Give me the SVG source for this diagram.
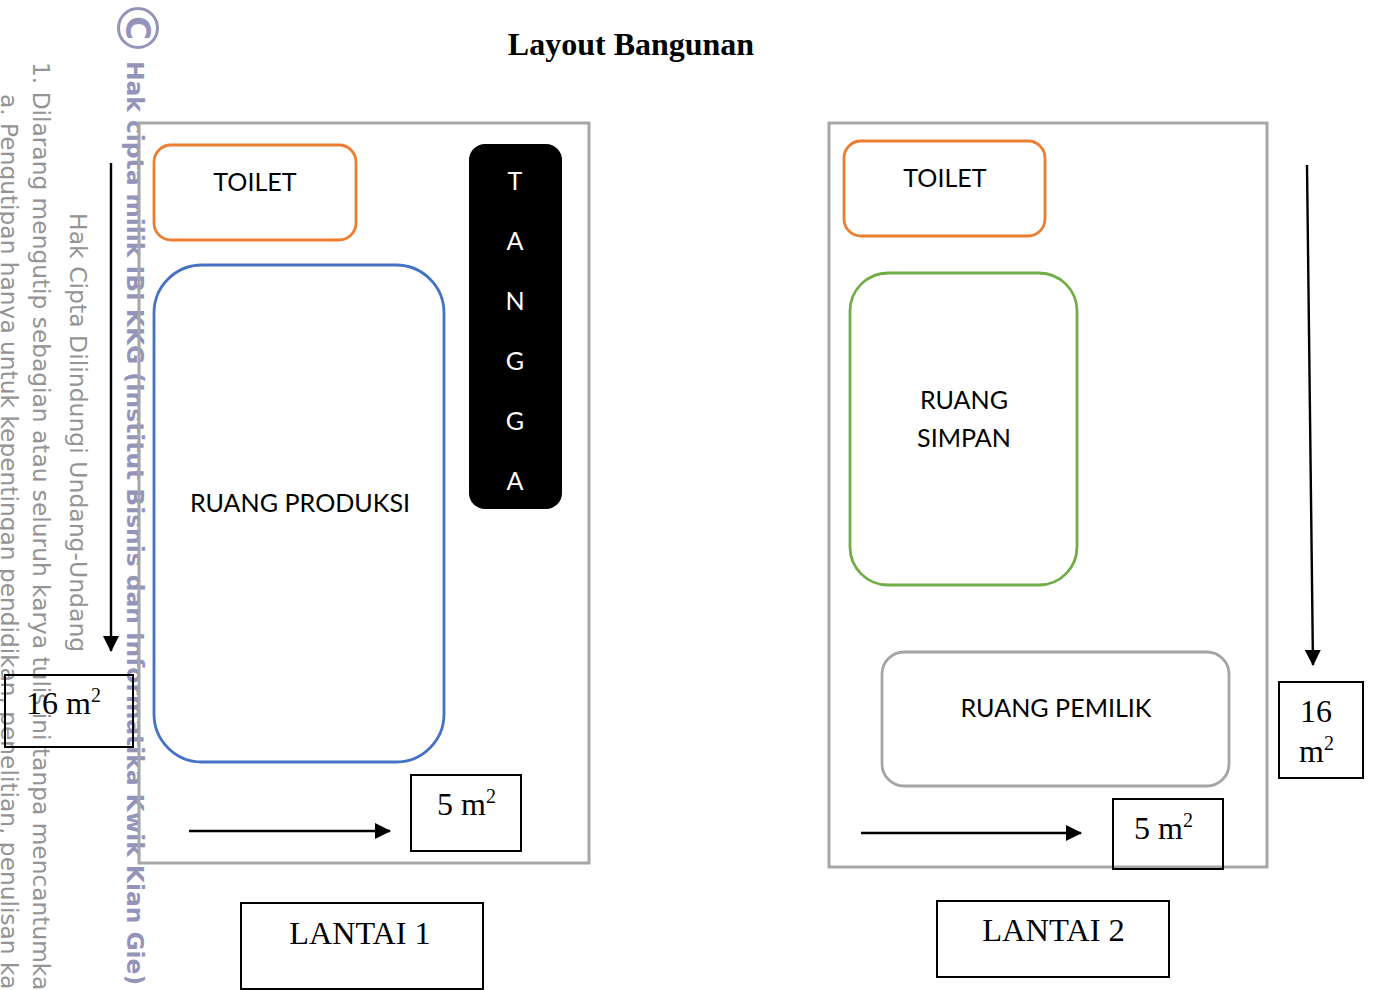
<svg xmlns="http://www.w3.org/2000/svg" width="1373" height="990" viewBox="0 0 1373 990">
<style>
.l{font-family:Lato,"Open Sans",sans-serif;font-size:25.1px;fill:#000;text-anchor:middle}
.w{font-family:"Liberation Serif","Times New Roman",serif;fill:#000}
.room{fill:none;stroke-width:2.8}
.box{fill:none;stroke:#000;stroke-width:2}
.fr{fill:none;stroke:#a6a6a6;stroke-width:3}
.c{fill:none;stroke:#000;stroke-width:2.4}
.wm1{font-family:"DejaVu Sans",sans-serif;font-size:23.3px;fill:#949494}
.wm2{font-family:"DejaVu Sans",sans-serif;font-weight:bold;font-size:23.35px;fill:#9494ba}
</style>
<defs>
<marker id="a" markerUnits="userSpaceOnUse" markerWidth="16" markerHeight="16" refX="15" refY="8" orient="auto"><path d="M0,0L16,8L0,16z" fill="#000"/></marker>
</defs>
<rect width="1373" height="990" fill="#fff"/>
<g id="watermark">
<circle cx="138" cy="28" r="19.5" fill="none" stroke="#9494ba" stroke-width="3"/>
<text class="wm2" transform="translate(126,28) rotate(90)" text-anchor="middle" style="font-size:33px">C</text>
<text class="wm2" transform="translate(127,61) rotate(90)">Hak cipta milik IBI KKG (Institut Bisnis dan Informatika Kwik Kian Gie)</text>
<text class="wm1" style="font-size:23.5px" transform="translate(70,213) rotate(90)">Hak Cipta Dilindungi Undang-Undang</text>
<text class="wm1" transform="translate(33,62) rotate(90)">1. Dilarang mengutip sebagian atau seluruh karya tulis ini tanpa mencantumka</text>
<text class="wm1" transform="translate(1,94) rotate(90)">a. Pengutipan hanya untuk kepentingan pendidikan, penelitian, penulisan ka</text>
</g>
<g id="title"><text class="w" x="631" y="55" font-size="32" font-weight="bold" text-anchor="middle">Layout Bangunan</text></g>
<g id="frame-lantai-1"><rect class="fr" x="139" y="123" width="450" height="740"/></g>
<g id="frame-lantai-2"><rect class="fr" x="829" y="123" width="438" height="744"/></g>
<g id="toilet-1"><rect class="room" stroke="#ed7d31" x="154" y="145" width="202" height="95" rx="17"/><text class="l" x="255" y="191">TOILET</text></g>
<g id="ruang-produksi"><rect class="room" stroke="#4472c4" x="154" y="265" width="290" height="497" rx="48"/><text class="l" x="300" y="512">RUANG PRODUKSI</text></g>
<g id="tangga"><rect x="469" y="144" width="93" height="365" rx="16" fill="#000"/>
<text class="l" style="fill:#fff" x="515" y="190">T</text><text class="l" style="fill:#fff" x="515" y="250">A</text><text class="l" style="fill:#fff" x="515" y="310">N</text><text class="l" style="fill:#fff" x="515" y="370">G</text><text class="l" style="fill:#fff" x="515" y="430">G</text><text class="l" style="fill:#fff" x="515" y="490">A</text></g>
<g id="toilet-2"><rect class="room" stroke="#ed7d31" x="844" y="141" width="201" height="95" rx="17"/><text class="l" x="945" y="187">TOILET</text></g>
<g id="ruang-simpan"><rect class="room" stroke="#70ad47" x="850" y="273" width="227" height="312" rx="38"/><text class="l" x="964" y="409">RUANG</text><text class="l" x="964" y="447">SIMPAN</text></g>
<g id="ruang-pemilik"><rect class="room" stroke="#a5a5a5" x="882" y="652" width="347" height="134" rx="22"/><text class="l" x="1056" y="717">RUANG PEMILIK</text></g>
<g id="connectors">
<path class="c" d="M111 163V651" marker-end="url(#a)"/>
<path class="c" d="M189 831H390" marker-end="url(#a)"/>
<path class="c" d="M1307 165L1313 665" marker-end="url(#a)"/>
<path class="c" d="M861 833H1081" marker-end="url(#a)"/>
</g>
<g id="dim-16-1"><rect class="box" x="5" y="675" width="128" height="72"/><text class="w" x="26" y="714" font-size="32">16 m<tspan font-size="20" dy="-12">2</tspan></text></g>
<g id="dim-5-1"><rect class="box" x="411" y="775" width="110" height="76"/><text class="w" x="437" y="815" font-size="32">5 m<tspan font-size="20" dy="-12">2</tspan></text></g>
<g id="dim-16-2"><rect class="box" x="1279" y="682" width="84" height="96"/><text class="w" x="1300" y="722" font-size="32">16</text><text class="w" x="1299" y="762" font-size="32">m<tspan font-size="20" dy="-12">2</tspan></text></g>
<g id="dim-5-2"><rect class="box" x="1113" y="799" width="110" height="70"/><text class="w" x="1134" y="839" font-size="32">5 m<tspan font-size="20" dy="-12">2</tspan></text></g>
<g id="lantai-1"><rect class="box" x="241" y="903" width="242" height="86"/><text class="w" x="360" y="944" font-size="32.2" text-anchor="middle">LANTAI 1</text></g>
<g id="lantai-2"><rect class="box" x="937" y="901" width="232" height="76"/><text class="w" x="1053.5" y="941" font-size="32.5" text-anchor="middle">LANTAI 2</text></g>
</svg>
